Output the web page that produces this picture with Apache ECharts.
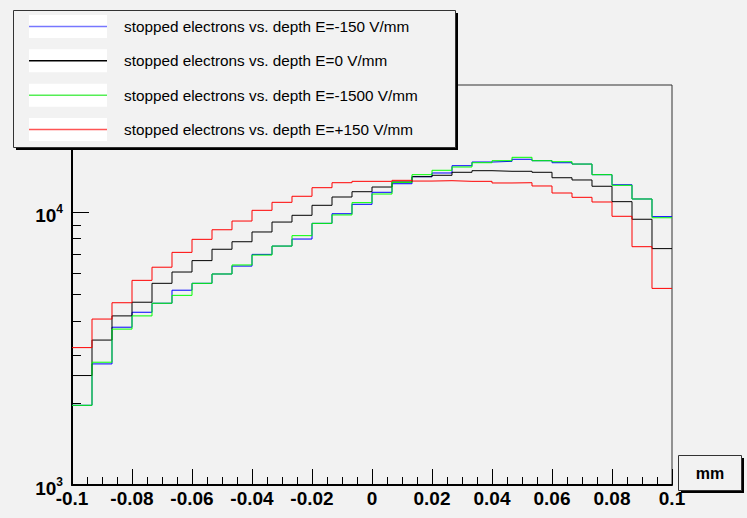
<!DOCTYPE html>
<html>
<head>
<meta charset="utf-8">
<script src="https://cdn.jsdelivr.net/npm/echarts@6/dist/echarts.min.js"></script>
<style>
  html, body { margin: 0; padding: 0; background: #f2f2f2; }
  #chart { width: 747px; height: 518px; }
</style>
</head>
<body>
<div id="chart"></div>
<script>
// Bin edges (mm), 30 bins from -0.1 to 0.1
const binEdges = [-0.1, -0.09333, -0.08667, -0.08, -0.07333, -0.06667, -0.06, -0.05333, -0.04667, -0.04,
  -0.03333, -0.02667, -0.02, -0.01333, -0.00667, 0, 0.00667, 0.01333, 0.02, 0.02667,
  0.03333, 0.04, 0.04667, 0.05333, 0.06, 0.06667, 0.07333, 0.08, 0.08667, 0.09333, 0.1];

const seriesNames = [
  'stopped electrons vs. depth E=-150 V/mm',
  'stopped electrons vs. depth E=0 V/mm',
  'stopped electrons vs. depth E=-1500 V/mm',
  'stopped electrons vs. depth E=+150 V/mm'
];
const seriesColors = ['#0000ff', '#000000', '#00ff00', '#ff0000'];
const legendSampleColors = ['#7777ff', '#000000', '#55ee55', '#ff5555'];

const valuesMinus150 = [1960, 2780, 3790, 4300, 4640, 5180, 5490, 5940, 6350, 7010, 7520, 7980, 9110, 9880, 10700,
  11840, 12730, 13510, 13940, 14820, 15290, 15380, 15650, 15460, 15200, 15030, 13740, 12620, 11190, 9640];
const valuesZero = [2520, 3400, 4170, 4680, 5490, 6040, 6650, 7320, 7800, 8470, 9210, 9750, 10610, 11380, 11900,
  12380, 12920, 13510, 13670, 14020, 14210, 14140, 14140, 14020, 13390, 13140, 12460, 10940, 9430, 7360];
const valuesMinus1500 = [1960, 2820, 3730, 4170, 4640, 4960, 5490, 5940, 6410, 6970, 7520, 8210, 9110, 9780, 10850,
  11670, 12880, 13740, 14260, 14660, 15200, 15460, 15910, 15460, 15330, 15030, 13740, 12560, 11190, 9550];
const valuesPlus150 = [3190, 4060, 4660, 5630, 6290, 7130, 7960, 8630, 9290, 10170, 10880, 11450, 12310, 12840, 12990,
  12990, 13100, 13020, 13060, 12990, 12990, 12810, 12840, 12490, 11770, 11350, 10910, 9670, 7480, 5260];

const xTickInterval = 0.02;
const yMajorTicks = [1000, 10000];
const yMinorTicks = [2000, 3000, 4000, 5000, 6000, 7000, 8000, 9000, 20000];
const yMin = 1000, yMax = 29300;

const allValues = [valuesMinus150, valuesZero, valuesMinus1500, valuesPlus150];

function histData(vals) {
  const d = vals.map((v, i) => [binEdges[i], v]);
  d.push([binEdges[binEdges.length - 1], vals[vals.length - 1]]);
  return d;
}

const FONT = "'Liberation Sans', Arial, Helvetica, sans-serif";
const chart = echarts.init(document.getElementById('chart'), null, { renderer: 'svg' });

const legendTop = 15, legendItemH = 23, legendGap = 11.33;
const legendRowTops = seriesNames.map((_, i) => legendTop + i * (legendItemH + legendGap));

const legendChildren = [
  { type: 'rect', z: 5, shape: { x: 3, y: 3, width: 442, height: 137 }, style: { fill: '#000' } },
  { type: 'rect', z: 6, shape: { x: 0.5, y: 0.5, width: 442, height: 137 }, style: { fill: '#f2f2f2', stroke: '#333', lineWidth: 1 } }
];
legendRowTops.forEach((t, i) => {
  const ry = t - 10;
  legendChildren.push({ type: 'rect', z: 7, shape: { x: 16, y: ry, width: 78, height: legendItemH }, style: { fill: '#ffffff' } });
  legendChildren.push({ type: 'line', z: 8, shape: { x1: 16, y1: ry + 11.5, x2: 94, y2: ry + 11.5 }, style: { stroke: legendSampleColors[i], lineWidth: 1.5 } });
  legendChildren.push({ type: 'text', z: 8, x: 111, y: ry + legendItemH / 2,
    style: { text: seriesNames[i], font: '15.3px ' + FONT, fill: '#000', textAlign: 'left', textVerticalAlign: 'middle' } });
});

const graphics = [
  { id: 'legendGroup', type: 'group', x: 13, y: 10, children: legendChildren },
  { id: 'mmGroup', type: 'group', x: 678, y: 455, children: [
    { type: 'rect', z: 5, shape: { x: 3, y: 3, width: 63, height: 35 }, style: { fill: '#000' } },
    { type: 'rect', z: 6, shape: { x: 0.5, y: 0.5, width: 63, height: 35 }, style: { fill: '#f2f2f2', stroke: '#333', lineWidth: 1 } },
    { type: 'text', z: 7, x: 32, y: 18, style: { text: 'mm', font: 'bold 16px ' + FONT, fill: '#000', textAlign: 'center', textVerticalAlign: 'middle' } }
  ] }
];

const option = {
  backgroundColor: '#f2f2f2',
  animation: false,
  grid: { left: 72, right: 75, top: 85, bottom: 33, show: true, borderColor: '#333', borderWidth: 1, backgroundColor: 'transparent' },
  xAxis: {
    type: 'value', min: -0.1, max: 0.1, interval: xTickInterval,
    axisLine: { show: true, onZero: false, lineStyle: { color: '#000', width: 2 } },
    axisTick: { show: true, inside: true, length: 16, lineStyle: { color: '#000', width: 1 } },
    minorTick: { show: true, splitNumber: 4, length: 8, lineStyle: { color: '#000', width: 1 } },
    splitLine: { show: false },
    minorSplitLine: { show: false },
    axisLabel: {
      show: true, margin: 4, color: '#000', fontFamily: FONT, fontSize: 19, fontWeight: 'bold',
      showMinLabel: true, showMaxLabel: true,
      formatter: v => String(Math.round(v * 1000) / 1000)
    }
  },
  yAxis: [
    {
      type: 'log', logBase: 10, min: yMin, max: yMax, position: 'left',
      axisLine: { show: true, onZero: false, lineStyle: { color: '#000', width: 2 } },
      axisTick: { show: true, inside: true, length: 17, customValues: yMajorTicks, lineStyle: { color: '#000', width: 1 } },
      splitLine: { show: false },
      axisLabel: {
        show: true, margin: 9, customValues: yMajorTicks,
        formatter: v => {
          const e = Math.round(Math.log10(v));
          if (Math.abs(v - Math.pow(10, e)) > 1e-6 * v) return '';
          return '{b|10}{s|' + e + '}';
        },
        rich: {
          b: { fontFamily: FONT, fontSize: 19, fontWeight: 'bold', color: '#000', lineHeight: 19, padding: [6, 0, 0, 0] },
          s: { fontFamily: FONT, fontSize: 12, fontWeight: 'bold', color: '#000', verticalAlign: 'top', lineHeight: 12 }
        }
      }
    },
    {
      type: 'log', logBase: 10, min: yMin, max: yMax, position: 'left', offset: 0,
      axisLine: { show: false, onZero: false },
      axisTick: { show: true, inside: true, length: 9, customValues: yMinorTicks, lineStyle: { color: '#000', width: 1 } },
      splitLine: { show: false },
      axisLabel: { show: false }
    }
  ],
  graphic: graphics,
  series: allValues.map((vals, i) => ({
    name: seriesNames[i],
    type: 'line',
    step: 'end',
    yAxisIndex: 0,
    symbol: 'none',
    showSymbol: false,
    silent: true,
    z: 2 + i * 0.1,
    lineStyle: { color: seriesColors[i], width: 1 },
    itemStyle: { color: seriesColors[i] },
    data: histData(vals)
  }))
};
chart.setOption(option);
</script>
</body>
</html>
